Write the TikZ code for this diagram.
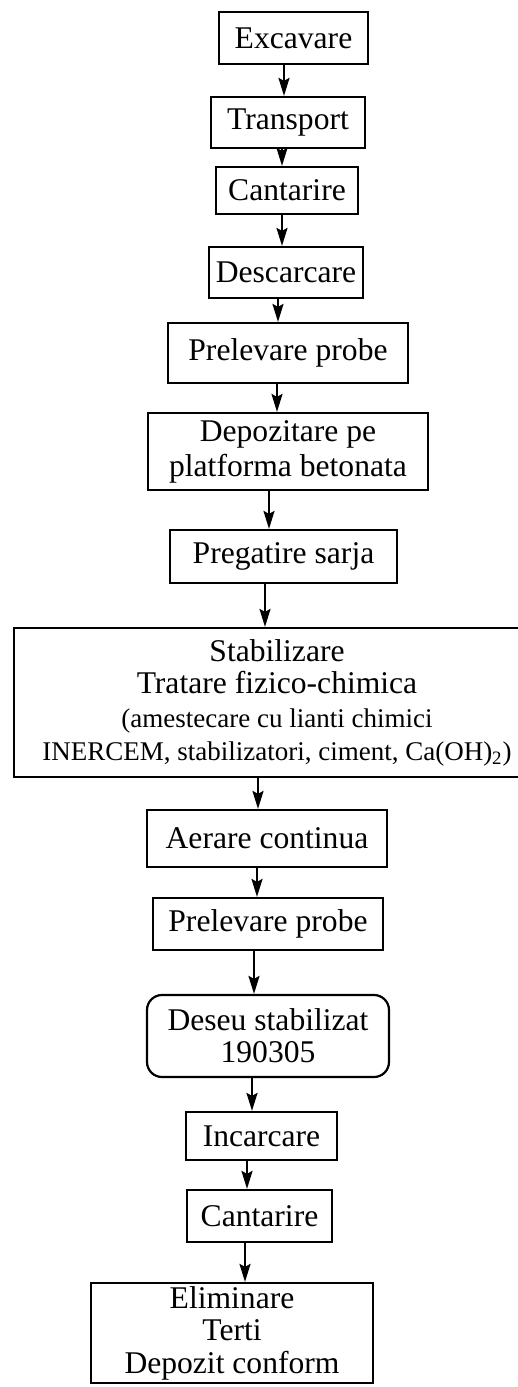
\documentclass[tikz,border=0pt]{standalone}
\usepackage{fontspec}
\setmainfont{Liberation Serif}
\usetikzlibrary{arrows.meta}
\begin{document}
\begin{tikzpicture}[x=0.5pt,y=-0.5pt,
  box/.style={draw, line width=1.1pt, inner sep=0pt, align=center,
    font=\fontsize{15.8}{16}\selectfont},
  rbox/.style={box, rounded corners=7.5pt},
  arr/.style={line width=1.1pt, -{Stealth[length=9pt,width=5.5pt,inset=1.5pt]}}]
\useasboundingbox (0,0) rectangle (518,1387);
\clip (0,0) rectangle (518,1387);
\fill[white] (0,0) rectangle (518,1387);

\node[box, minimum width=74.5pt, minimum height=26pt] (ex) at (293.5,38) {Excavare};
\node[box, minimum width=77pt, minimum height=25.5pt] (tr) at (288,122.5) {Transport};
\node[box, minimum width=71pt, minimum height=23.5pt] (ca) at (287,190.5) {Cantarire};
\node[box, minimum width=77pt, minimum height=25.5pt] (de) at (286,272.5) {Descarcare};
\node[box, minimum width=120pt, minimum height=30pt] (pp) at (288,353) {Prelevare probe};
\node[box, minimum width=140pt, minimum height=38.5pt] (dp) at (288,451.5) {Depozitare pe\\[1.5pt] platforma betonata};
\node[box, minimum width=113.5pt, minimum height=26.5pt] (ps) at (283.5,556.5) {Pregatire sarja};
\node[box, minimum width=263pt, minimum height=74.5pt] (st) at (277,702.5)
  {Stabilizare\\ Tratare fizico-chimica\\[1pt]
   {\fontsize{13.5}{16}\selectfont (amestecare cu lianti chimici}\\[0.5pt]
   {\fontsize{13.5}{16}\selectfont INERCEM, stabilizatori, ciment, Ca(OH)\textsubscript{2})}};
\node[box, minimum width=120pt, minimum height=28.5pt] (ae) at (267,838.5) {Aerare continua};
\node[box, minimum width=115pt, minimum height=26pt] (p2) at (268,924) {Prelevare probe};
\node[rbox, minimum width=121pt, minimum height=41pt] (ds) at (268,1036) {Deseu stabilizat\\ 190305};
\node[box, minimum width=75.5pt, minimum height=24pt] (in) at (261.5,1136) {Incarcare};
\node[box, minimum width=72.5pt, minimum height=26pt] (c2) at (259.5,1216) {Cantarire};
\node[box, minimum width=141pt, minimum height=50pt] (el) at (232,1333) {Eliminare\\[0.3pt] Terti\\[0.3pt] Depozit conform};

\coordinate (a1) at (284,0);
\coordinate (a2) at (282,0);
\coordinate (a3) at (282,0);
\coordinate (a4) at (278,0);
\coordinate (a5) at (277,0);
\coordinate (a6) at (269,0);
\coordinate (a7) at (265,0);
\coordinate (a8) at (258,0);
\coordinate (a9) at (257,0);
\coordinate (a10) at (254,0);
\coordinate (a11) at (252,0);
\coordinate (a12) at (247,0);
\coordinate (a13) at (245,0);

\draw[arr] (ex.south -| a1) -- (tr.north -| a1);
\draw[arr] (tr.south -| a2) -- (ca.north -| a2);
\draw[arr] (ca.south -| a3) -- (de.north -| a3);
\draw[arr] (de.south -| a4) -- (pp.north -| a4);
\draw[arr] (pp.south -| a5) -- (dp.north -| a5);
\draw[arr] (dp.south -| a6) -- (ps.north -| a6);
\draw[arr] (ps.south -| a7) -- (st.north -| a7);
\draw[arr] (st.south -| a8) -- (ae.north -| a8);
\draw[arr] (ae.south -| a9) -- (p2.north -| a9);
\draw[arr] (p2.south -| a10) -- (ds.north -| a10);
\draw[arr] (ds.south -| a11) -- (in.north -| a11);
\draw[arr] (in.south -| a12) -- (c2.north -| a12);
\draw[arr] (c2.south -| a13) -- (el.north -| a13);
\end{tikzpicture}
\end{document}
